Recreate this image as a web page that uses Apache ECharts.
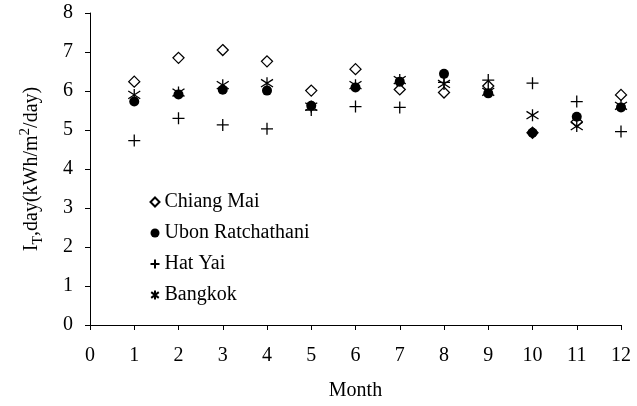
<!DOCTYPE html>
<html>
<head>
<meta charset="utf-8">
<script src="https://cdn.jsdelivr.net/npm/echarts@6/dist/echarts.min.js"></script>
<style>html,body{margin:0;padding:0;background:#fff}#c{width:637px;height:406px}</style>
</head>
<body>
<div id="c"></div>
<script>
const months = [1,2,3,4,5,6,7,8,9,10,11,12];
const chiangMai = [6.24,6.85,7.05,6.76,6.01,6.56,6.04,5.96,6.13,4.93,5.21,5.90];
const ubon      = [5.73,5.91,6.03,6.01,5.62,6.09,6.24,6.44,5.94,4.93,5.34,5.58];
const hatYai    = [4.73,5.30,5.13,5.03,5.51,5.60,5.58,6.22,6.28,6.20,5.73,4.96];
const bangkok   = [5.90,5.96,6.15,6.20,5.60,6.15,6.28,6.18,5.98,5.38,5.10,5.62];
const seriesNames = ['Chiang Mai','Ubon Ratchathani','Hat Yai','Bangkok'];
const xTicks = [0,1,2,3,4,5,6,7,8,9,10,11,12];
const yTicks = [0,1,2,3,4,5,6,7,8];

const font = '"Liberation Serif","Times New Roman",serif';
const pair = arr => months.map((m,i)=>[m,arr[i]]);
const PLUS = 'path://M0,5L10,5M5,0L5,10';
const STAR = 'path://M5,0L5,10M0.8,1.8L9.2,8.2M0.8,8.2L9.2,1.8';

const chart = echarts.init(document.getElementById('c'), null, {renderer:'canvas'});
chart.setOption({
  animation:false,
  backgroundColor:'#fff',
  grid:{left:90,right:16,top:13,bottom:81},
  xAxis:{
    type:'value', min:xTicks[0], max:xTicks[xTicks.length-1], interval:1,
    name:'Month', nameLocation:'middle', nameGap:56,
    nameTextStyle:{fontFamily:font,fontSize:20,color:'#000'},
    axisLine:{lineStyle:{color:'#000',width:1}},
    axisTick:{show:true,inside:false,length:5,lineStyle:{color:'#000'}},
    axisLabel:{fontFamily:font,fontSize:20,color:'#000',margin:21},
    splitLine:{show:false}
  },
  yAxis:{
    type:'value', min:yTicks[0], max:yTicks[yTicks.length-1], interval:1,
    name:'I{sub|T},day(kWh/m{sup|2}/day)', nameLocation:'middle', nameGap:45,
    nameRotate:90,
    nameTextStyle:{fontFamily:font,fontSize:20,color:'#000',
      rich:{sub:{fontFamily:font,fontSize:14,color:'#000',verticalAlign:'bottom',padding:[10,0,0,0]},
            sup:{fontFamily:font,fontSize:15,color:'#000',verticalAlign:'top',padding:[0,0,12,0]}}},
    axisLine:{show:true,lineStyle:{color:'#000',width:1}},
    axisTick:{show:true,inside:false,length:5,lineStyle:{color:'#000'}},
    axisLabel:{fontFamily:font,fontSize:20,color:'#000',margin:17},
    splitLine:{show:false}
  },
  legend:{
    orient:'vertical', left:143, top:187, itemGap:11, itemWidth:9, itemHeight:9,
    textStyle:{fontFamily:font,fontSize:20,color:'#000'},
    data:seriesNames
  },
  series:[
    {name:seriesNames[0],type:'scatter',data:pair(chiangMai),symbol:'diamond',symbolSize:11,
     itemStyle:{color:'#fff',borderColor:'#000',borderWidth:1.3,opacity:1}},
    {name:seriesNames[1],type:'scatter',data:pair(ubon),symbol:'circle',symbolSize:10,
     itemStyle:{color:'#000',opacity:1}},
    {name:seriesNames[2],type:'scatter',data:pair(hatYai),symbol:PLUS,symbolSize:12,
     itemStyle:{color:'none',borderColor:'#000',borderWidth:1.3,opacity:1}},
    {name:seriesNames[3],type:'scatter',data:pair(bangkok),symbol:STAR,symbolSize:12,
     itemStyle:{color:'none',borderColor:'#000',borderWidth:1.3,opacity:1}}
  ]
});
</script>
</body>
</html>
